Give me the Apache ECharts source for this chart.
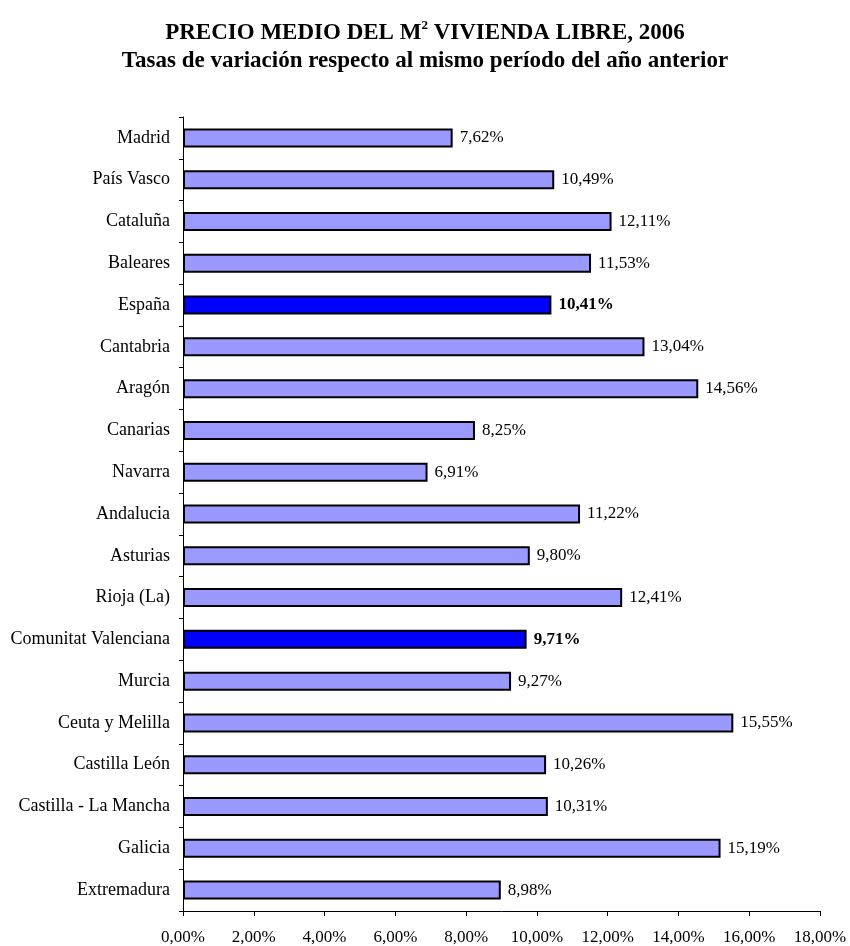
<!DOCTYPE html>
<html><head><meta charset="utf-8">
<script src="https://cdn.jsdelivr.net/npm/echarts@6/dist/echarts.min.js"></script>
<style>html,body{margin:0;padding:0;background:#fff}#c{width:850px;height:946px}</style>
</head><body><div id="c"></div>
<script>
var categories = ["Madrid","País Vasco","Cataluña","Baleares","España","Cantabria","Aragón","Canarias","Navarra","Andalucia","Asturias","Rioja (La)","Comunitat Valenciana","Murcia","Ceuta y Melilla","Castilla León","Castilla - La Mancha","Galicia","Extremadura"];
var values = [7.62,10.49,12.11,11.53,10.41,13.04,14.56,8.25,6.91,11.22,9.80,12.41,9.71,9.27,15.55,10.26,10.31,15.19,8.98];
var highlighted = ["España","Comunitat Valenciana"];
var xTicks = [0,2,4,6,8,10,12,14,16,18];

var F = "'Liberation Serif','Times New Roman',serif";
function fmt(v){ return v.toFixed(2).replace('.', ',') + '%'; }
var data = values.map(function(v,i){
  var h = highlighted.indexOf(categories[i]) >= 0;
  return {value:v, itemStyle:{color: h ? '#0000FF' : '#9999FF'},
    label:{fontWeight: h ? 'bold' : 'normal'}};
});
var chart = echarts.init(document.getElementById('c'));
chart.setOption({
  animation:false,
  backgroundColor:'#fff',
  title:{
    text:'PRECIO MEDIO DEL M{sup|2} VIVIENDA LIBRE, 2006\nTasas de variación respecto al mismo período del año anterior',
    left:'center', top:14,
    textStyle:{fontFamily:F, fontSize:23, fontWeight:'bold', color:'#000', lineHeight:28,
      rich:{sup:{fontFamily:F, fontSize:13, fontWeight:'bold', verticalAlign:'top', lineHeight:14, padding:[0,0,12,0]}}}
  },
  grid:{left:183, right:30, top:117, bottom:34, containLabel:false},
  xAxis:{
    type:'value', min:xTicks[0], max:xTicks[xTicks.length-1], interval:2,
    axisLine:{show:true, lineStyle:{color:'#000', width:1}},
    axisTick:{show:true, length:5, lineStyle:{color:'#000'}},
    splitLine:{show:false},
    axisLabel:{fontFamily:F, fontSize:17, color:'#000', margin:18, formatter:function(v){return fmt(v);}}
  },
  yAxis:{
    type:'category', data:categories, inverse:true,
    axisLine:{show:true, lineStyle:{color:'#000', width:1}},
    axisTick:{show:true, length:4, lineStyle:{color:'#000'}},
    axisLabel:{fontFamily:F, fontSize:18, color:'#000', margin:13}
  },
  series:[{
    type:'bar', data:data, barWidth:19,
    itemStyle:{borderColor:'#000', borderWidth:2},
    label:{show:true, position:'right', distance:7, fontFamily:F, fontSize:17, color:'#000',
      formatter:function(p){return fmt(p.value);}}
  }]
});
</script></body></html>
